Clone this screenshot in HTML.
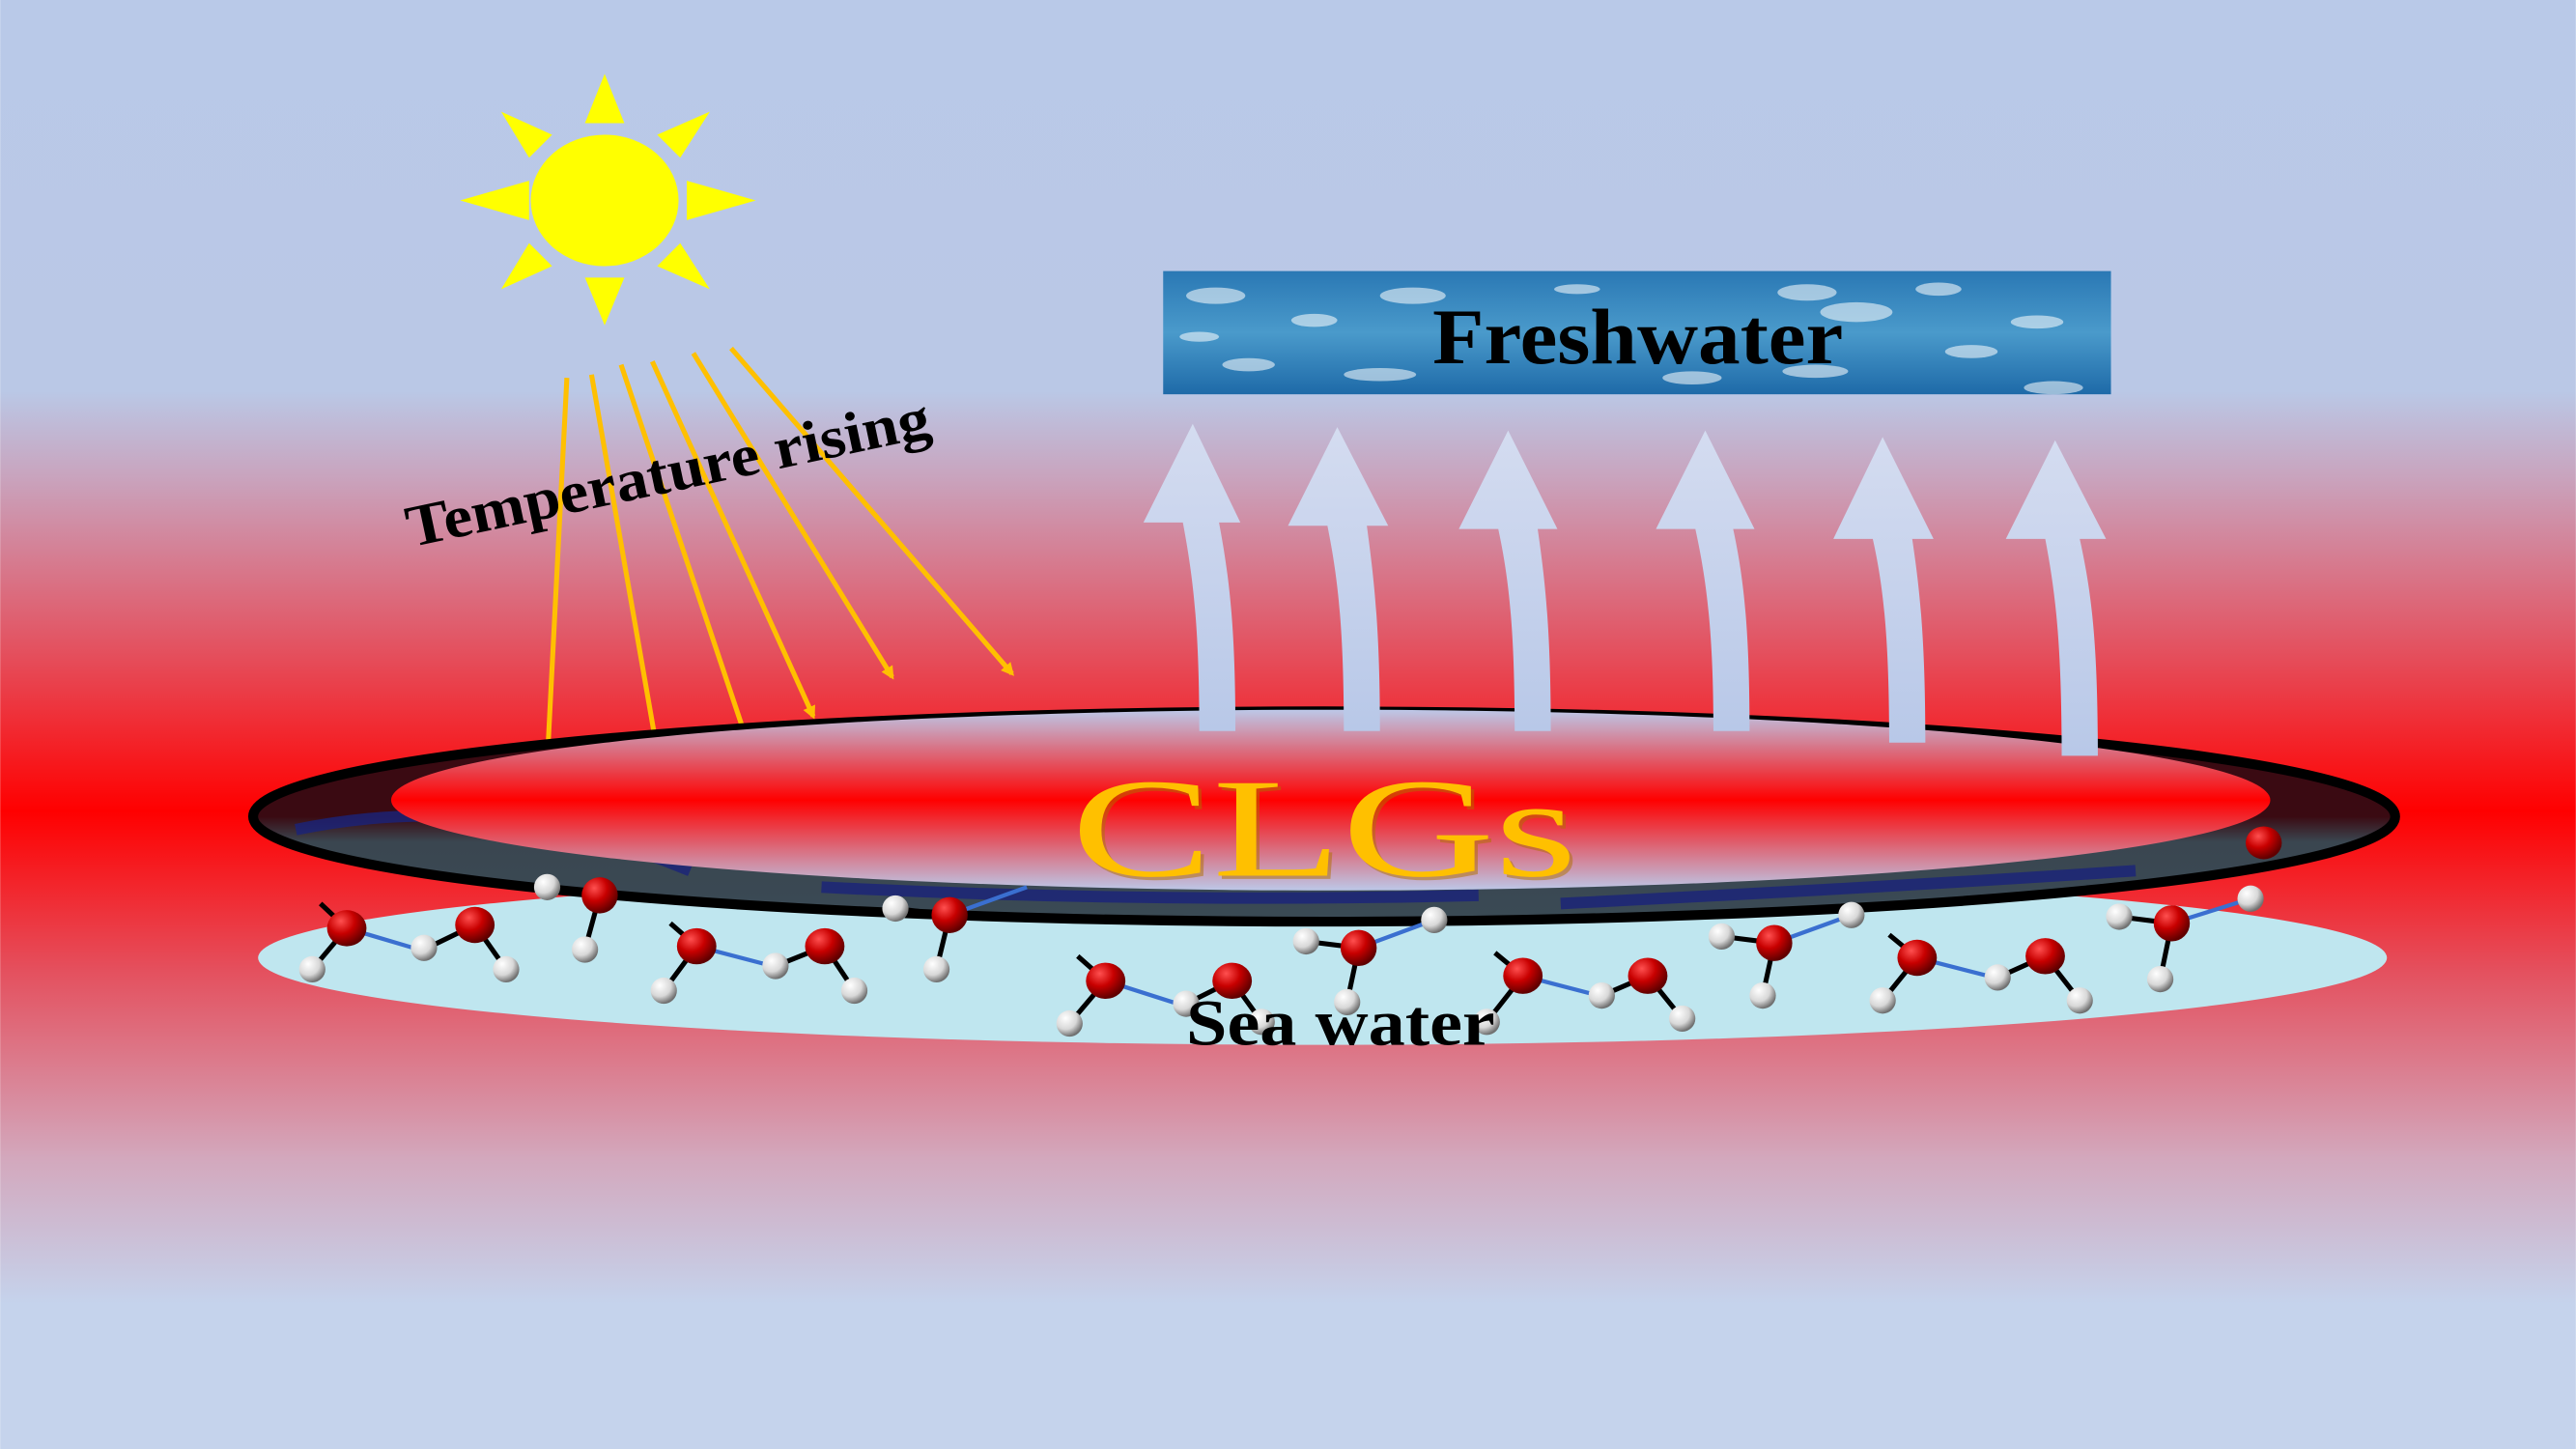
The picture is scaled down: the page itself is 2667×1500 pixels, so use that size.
<!DOCTYPE html>
<html><head><style>html,body{margin:0;padding:0;width:2667px;height:1500px;overflow:hidden}svg{display:block}</style></head>
<body>
<svg width="2667" height="1500" viewBox="0 0 1568 882" xmlns="http://www.w3.org/2000/svg">
<defs>
<linearGradient id="bg" x1="0" y1="0" x2="0" y2="1">
<stop offset="0" stop-color="#b9c9e8"/><stop offset="0.27" stop-color="#bac8e6"/>
<stop offset="0.33" stop-color="#c9a3bd"/><stop offset="0.45" stop-color="#e4505e"/>
<stop offset="0.56" stop-color="#ff0000"/><stop offset="0.67" stop-color="#e4505e"/>
<stop offset="0.8" stop-color="#d3a8bd"/><stop offset="0.9" stop-color="#c5d3ec"/><stop offset="1" stop-color="#c5d3ec"/>
</linearGradient>
<linearGradient id="inner" x1="0" y1="0" x2="0" y2="1">
<stop offset="0" stop-color="#bcc8e8"/><stop offset="0.5" stop-color="#ff0000"/><stop offset="1" stop-color="#bcc8e8"/>
</linearGradient>
<linearGradient id="ring" x1="0" y1="0" x2="0" y2="1">
<stop offset="0" stop-color="#3a0a12"/><stop offset="0.5" stop-color="#3a0a12"/><stop offset="0.62" stop-color="#3a4650"/><stop offset="1" stop-color="#3a4a55"/>
</linearGradient>
<linearGradient id="fw" x1="0" y1="0" x2="0" y2="1">
<stop offset="0" stop-color="#2a78b4"/><stop offset="0.5" stop-color="#4a9acb"/><stop offset="1" stop-color="#1e6aa8"/>
</linearGradient>
<linearGradient id="arr" x1="0" y1="0" x2="0" y2="1">
<stop offset="0" stop-color="#d4dcf0"/><stop offset="1" stop-color="#b8c8e8"/>
</linearGradient>
<radialGradient id="red" cx="0.35" cy="0.3" r="0.7"><stop offset="0" stop-color="#ff5050"/><stop offset="0.5" stop-color="#c80000"/><stop offset="1" stop-color="#600000"/></radialGradient>
<radialGradient id="wh" cx="0.35" cy="0.3" r="0.7"><stop offset="0" stop-color="#ffffff"/><stop offset="0.6" stop-color="#d8d8d8"/><stop offset="1" stop-color="#707070"/></radialGradient>
<marker id="ah" markerWidth="8" markerHeight="8" refX="6" refY="4" orient="auto" markerUnits="userSpaceOnUse"><path d="M0,0 L8,4 L0,8 Z" fill="#ffc000"/></marker>
</defs>
<rect width="1568" height="882" fill="url(#bg)"/>
<g fill="#ffff00">
<ellipse cx="368" cy="122" rx="45" ry="40"/>
<polygon points="356,75 380,75 368,45"/>
<polygon points="356,169 380,169 368,198"/>
<polygon points="322,110 322,134 280,122"/>
<polygon points="418,110 418,134 460,122"/>
<polygon points="400,82 414,96 432,68"/>
<polygon points="336,82 322,96 305,68"/>
<polygon points="400,162 414,148 432,176"/>
<polygon points="336,162 322,148 305,176"/>
</g>
<g stroke="#ffc000" stroke-width="3" fill="none">
<line x1="345" y1="230" x2="333" y2="465"/>
<line x1="360" y1="228" x2="400" y2="457"/>
<line x1="378" y1="222" x2="455" y2="452"/>
<line x1="397" y1="220" x2="495" y2="436" marker-end="url(#ah)"/>
<line x1="422" y1="215" x2="543" y2="412" marker-end="url(#ah)"/>
<line x1="445" y1="212" x2="616" y2="410" marker-end="url(#ah)"/>
</g>
<text x="0" y="0" transform="translate(250,333) rotate(-12)" font-family="'Liberation Serif', serif" font-weight="bold" font-size="36" textLength="325" lengthAdjust="spacingAndGlyphs" fill="#000">Temperature rising</text>
<rect x="708" y="165" width="577" height="75" fill="url(#fw)"/>
<g fill="#ffffff" opacity="0.55">
<ellipse cx="740" cy="180" rx="18" ry="5"/><ellipse cx="800" cy="195" rx="14" ry="4"/><ellipse cx="860" cy="180" rx="20" ry="5"/>
<ellipse cx="760" cy="222" rx="16" ry="4"/><ellipse cx="840" cy="228" rx="22" ry="4"/><ellipse cx="1100" cy="178" rx="18" ry="5"/>
<ellipse cx="1130" cy="190" rx="22" ry="6"/><ellipse cx="1180" cy="176" rx="14" ry="4"/><ellipse cx="1250" cy="236" rx="18" ry="4"/>
<ellipse cx="1240" cy="196" rx="16" ry="4"/><ellipse cx="1105" cy="226" rx="20" ry="4"/><ellipse cx="960" cy="176" rx="14" ry="3"/>
<ellipse cx="1030" cy="230" rx="18" ry="4"/><ellipse cx="730" cy="205" rx="12" ry="3"/><ellipse cx="1200" cy="214" rx="16" ry="4"/>
</g>
<text x="872" y="221" font-family="'Liberation Serif', serif" font-weight="bold" font-size="48" textLength="250" lengthAdjust="spacingAndGlyphs" fill="#000">Freshwater</text>
<ellipse cx="805" cy="583" rx="648" ry="53" fill="#bfe6ef"/>
<ellipse cx="806" cy="497" rx="652" ry="64" fill="url(#ring)" stroke="#000" stroke-width="6"/>
<g stroke="#1a237a" stroke-width="7" fill="none" opacity="0.8">
<path d="M180,505 Q300,480 420,530"/><path d="M500,540 Q700,550 900,545"/><path d="M950,550 Q1150,540 1300,530"/>
</g>
<ellipse cx="810" cy="487" rx="572" ry="55" fill="url(#inner)"/>
<g fill="url(#arr)">
<path d="M730,445 L752,445 C752,380 748,350 742,318 L755,318 L726,258 L696,318 L720,318 C726,350 730,380 730,445Z"/>
<path d="M818,445 L840,445 C840,380 836,350 832,320 L845,320 L814,260 L784,320 L808,320 C814,350 818,380 818,445Z"/>
<path d="M922,445 L944,445 C944,380 940,350 936,322 L948,322 L918,262 L888,322 L912,322 C918,350 922,380 922,445Z"/>
<path d="M1043,445 L1065,445 C1065,380 1061,350 1055,322 L1068,322 L1038,262 L1008,322 L1032,322 C1038,350 1043,380 1043,445Z"/>
<path d="M1150,452 L1172,452 C1172,385 1168,355 1164,328 L1177,328 L1146,266 L1116,328 L1140,328 C1146,355 1150,385 1150,452Z"/>
<path d="M1255,460 L1277,460 C1277,390 1273,360 1266,328 L1282,328 L1251,268 L1221,328 L1245,328 C1251,360 1255,390 1255,460Z"/>
</g>
<text x="652" y="533" font-family="'Liberation Serif', serif" font-size="86" textLength="308" lengthAdjust="spacingAndGlyphs" fill="#b07000" opacity="0.5" transform="translate(2,2)">CLGs</text>
<text x="652" y="533" font-family="'Liberation Serif', serif" font-size="86" textLength="308" lengthAdjust="spacingAndGlyphs" fill="#ffc000">CLGs</text>
<g stroke="#3a6fd0" stroke-width="2.5"><path d="M211,565 L255,578 M424,576 L470,588 M673,597 L720,612 M927,594 L973,606 M1167,583 L1214,595 M578,557 L625,540 M827,577 L873,560 M1080,574 L1127,557 M1322,562 L1370,547"/></g>
<g stroke="#000" stroke-width="3">
<path d="M211,565 L195,550 M211,565 L190,590 M289,563 L260,577 M289,563 L308,590 M365,545 L356,578 M365,545 L335,540 M424,576 L408,562 M424,576 L404,603 M502,576 L472,588 M502,576 L520,603 M578,557 L570,590 M578,557 L545,553 M673,597 L656,582 M673,597 L651,623 M750,597 L722,611 M750,597 L768,622 M827,577 L820,610 M827,577 L795,573 M927,594 L910,580 M927,594 L905,622 M1003,594 L975,606 M1003,594 L1024,620 M1080,574 L1073,606 M1080,574 L1048,570 M1167,583 L1150,569 M1167,583 L1146,609 M1245,582 L1216,595 M1245,582 L1266,609 M1322,562 L1315,596 M1322,562 L1290,558"/>
</g>
<g fill="url(#red)">
<ellipse cx="211" cy="565" rx="12" ry="11"/><ellipse cx="289" cy="563" rx="12" ry="11"/><ellipse cx="365" cy="545" rx="11" ry="11"/>
<ellipse cx="424" cy="576" rx="12" ry="11"/><ellipse cx="502" cy="576" rx="12" ry="11"/><ellipse cx="578" cy="557" rx="11" ry="11"/>
<ellipse cx="673" cy="597" rx="12" ry="11"/><ellipse cx="750" cy="597" rx="12" ry="11"/><ellipse cx="827" cy="577" rx="11" ry="11"/>
<ellipse cx="927" cy="594" rx="12" ry="11"/><ellipse cx="1003" cy="594" rx="12" ry="11"/><ellipse cx="1080" cy="574" rx="11" ry="11"/>
<ellipse cx="1167" cy="583" rx="12" ry="11"/><ellipse cx="1245" cy="582" rx="12" ry="11"/><ellipse cx="1322" cy="562" rx="11" ry="11"/>
<ellipse cx="1378" cy="513" rx="11" ry="10"/>
</g>
<g fill="url(#wh)">
<circle cx="190" cy="590" r="8"/><circle cx="258" cy="577" r="8"/><circle cx="308" cy="590" r="8"/>
<circle cx="356" cy="578" r="8"/><circle cx="333" cy="540" r="8"/><circle cx="404" cy="603" r="8"/><circle cx="472" cy="588" r="8"/><circle cx="520" cy="603" r="8"/>
<circle cx="570" cy="590" r="8"/><circle cx="545" cy="553" r="8"/><circle cx="651" cy="623" r="8"/><circle cx="722" cy="611" r="8"/><circle cx="768" cy="622" r="8"/>
<circle cx="820" cy="610" r="8"/><circle cx="795" cy="573" r="8"/><circle cx="873" cy="560" r="8"/><circle cx="905" cy="622" r="8"/><circle cx="975" cy="606" r="8"/><circle cx="1024" cy="620" r="8"/>
<circle cx="1073" cy="606" r="8"/><circle cx="1048" cy="570" r="8"/><circle cx="1127" cy="557" r="8"/><circle cx="1146" cy="609" r="8"/><circle cx="1216" cy="595" r="8"/><circle cx="1266" cy="609" r="8"/>
<circle cx="1315" cy="596" r="8"/><circle cx="1290" cy="558" r="8"/><circle cx="1370" cy="547" r="8"/>
</g>
<text x="722" y="636" font-family="'Liberation Serif', serif" font-weight="bold" font-size="40" textLength="188" lengthAdjust="spacingAndGlyphs" fill="#000">Sea water</text>
</svg>
</body></html>
